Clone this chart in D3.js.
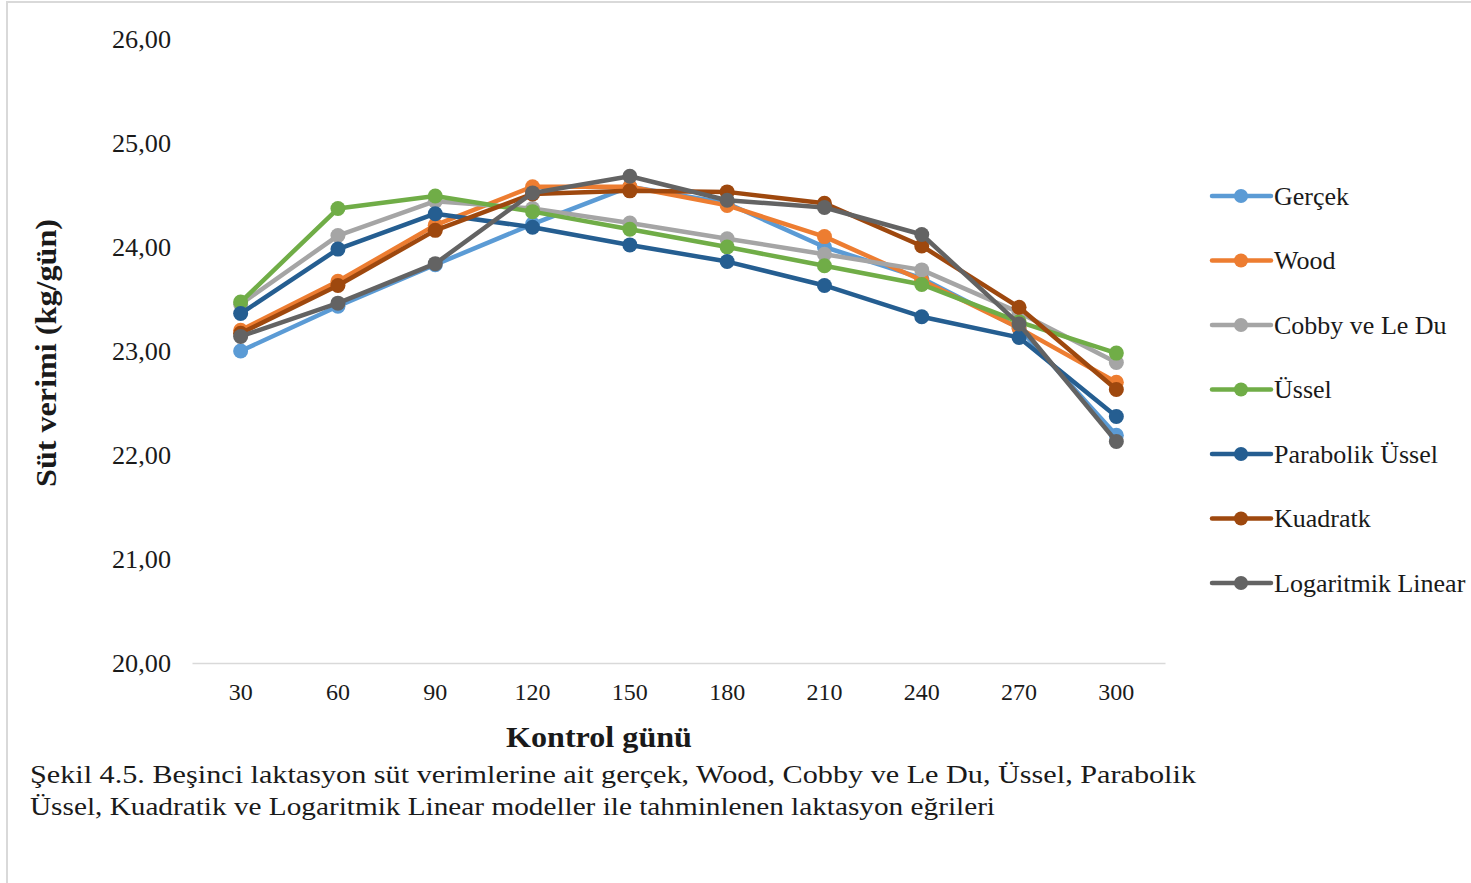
<!DOCTYPE html>
<html lang="tr">
<head>
<meta charset="utf-8">
<script src="https://cdn.jsdelivr.net/npm/d3@7"></script>
<style>
  html, body { margin: 0; padding: 0; background: #fff; }
  svg { display: block; }
  text { font-family: "Liberation Serif", "Times New Roman", serif; fill: #1a1a1a; }
</style>
</head>
<body>
<svg id="chart" width="1471" height="883"></svg>
<script>
// Control days (x categories)
const days = [30, 60, 90, 120, 150, 180, 210, 240, 270, 300];

// Milk yield per control day (kg/day), observed and model estimates
const gercek      = [23.00, 23.43, 23.83, 24.22, 24.58, 24.42, 24.00, 23.70, 23.22, 22.19];
const wood        = [23.20, 23.67, 24.21, 24.58, 24.58, 24.40, 24.10, 23.68, 23.22, 22.70];
const cobbyLeDu   = [23.45, 24.11, 24.44, 24.37, 24.23, 24.08, 23.93, 23.78, 23.37, 22.89];
const ussel       = [23.47, 24.37, 24.49, 24.34, 24.17, 24.00, 23.82, 23.64, 23.28, 22.98];
const parabolik   = [23.36, 23.98, 24.32, 24.19, 24.02, 23.86, 23.63, 23.33, 23.13, 22.37];
const kuadratk    = [23.17, 23.63, 24.16, 24.51, 24.54, 24.53, 24.42, 24.01, 23.42, 22.63];
const logLinear   = [23.14, 23.46, 23.84, 24.52, 24.68, 24.45, 24.38, 24.12, 23.26, 22.13];

const seriesNames  = ["Gerçek", "Wood", "Cobby ve Le Du", "Üssel", "Parabolik Üssel", "Kuadratk", "Logaritmik Linear"];
const seriesValues = [gercek, wood, cobbyLeDu, ussel, parabolik, kuadratk, logLinear];
const seriesColors = ["#5B9BD5", "#ED7D31", "#A5A5A5", "#70AD47", "#255E91", "#9E480E", "#636363"];

const yTicks = [20, 21, 22, 23, 24, 25, 26];

const svg = d3.select("#chart");

// Outer frame (left and top edges)
svg.append("line").attr("x1", 7).attr("x2", 7).attr("y1", 1).attr("y2", 883)
  .attr("stroke", "#d9d9d9").attr("stroke-width", 2);
svg.append("line").attr("x1", 6).attr("x2", 1471).attr("y1", 2).attr("y2", 2)
  .attr("stroke", "#d9d9d9").attr("stroke-width", 2);

const x = d3.scaleBand().domain(days).range([192, 1165]).padding(0);
const y = d3.scaleLinear().domain([20, 26]).range([663, 39]);
const cx = d => x(d) + x.bandwidth() / 2;

// Y axis labels
const yAxis = d3.axisLeft(y).tickValues(yTicks).tickSize(0).tickPadding(0)
  .tickFormat(d => d3.format(".2f")(d).replace(".", ","));
const yg = svg.append("g").attr("transform", "translate(171,0)").call(yAxis);
yg.select(".domain").remove();
yg.selectAll("text").attr("font-size", 25).attr("font-family", "Liberation Serif").attr("fill", "#1a1a1a")
  .attr("textLength", 59).attr("lengthAdjust", "spacingAndGlyphs");

// X axis line and labels
const xAxis = d3.axisBottom(x).tickSize(0).tickPadding(20);
const xg = svg.append("g").attr("transform", "translate(0,663)").call(xAxis);
xg.select(".domain").attr("stroke", "#d9d9d9").attr("stroke-width", 1.5);
xg.selectAll("text").attr("font-size", 24).attr("font-family", "Liberation Serif").attr("fill", "#1a1a1a");

// Axis titles
svg.append("text").attr("x", 599).attr("y", 747).attr("text-anchor", "middle")
  .attr("font-size", 29).attr("font-weight", "bold")
  .attr("textLength", 186).attr("lengthAdjust", "spacingAndGlyphs").text("Kontrol günü");
svg.append("text").attr("transform", "translate(56,353) rotate(-90)").attr("text-anchor", "middle")
  .attr("font-size", 29).attr("font-weight", "bold")
  .attr("textLength", 268).attr("lengthAdjust", "spacingAndGlyphs").text("Süt verimi (kg/gün)");

// Series lines and markers
const line = d3.line().x((d, i) => cx(days[i])).y(d => y(d));
seriesValues.forEach((vals, k) => {
  const g = svg.append("g");
  g.append("path").datum(vals).attr("d", line).attr("fill", "none")
    .attr("stroke", seriesColors[k]).attr("stroke-width", 4.5)
    .attr("stroke-linejoin", "round").attr("stroke-linecap", "round");
  g.selectAll("circle").data(vals).join("circle")
    .attr("cx", (d, i) => cx(days[i])).attr("cy", d => y(d)).attr("r", 7.5)
    .attr("fill", seriesColors[k]);
});

// Legend
const legend = svg.append("g");
seriesNames.forEach((name, k) => {
  const ly = 196 + k * 64.5;
  legend.append("line").attr("x1", 1212).attr("x2", 1271).attr("y1", ly).attr("y2", ly)
    .attr("stroke", seriesColors[k]).attr("stroke-width", 4.5).attr("stroke-linecap", "round");
  legend.append("circle").attr("cx", 1241).attr("cy", ly).attr("r", 7).attr("fill", seriesColors[k]);
  legend.append("text").attr("x", 1274).attr("y", ly).attr("dy", "0.33em")
    .attr("font-size", 26).text(name);
});

// Figure caption
svg.append("text").attr("x", 30).attr("y", 783).attr("font-size", 25)
  .attr("textLength", 1166).attr("lengthAdjust", "spacingAndGlyphs")
  .text("Şekil 4.5. Beşinci laktasyon süt verimlerine ait gerçek, Wood, Cobby ve Le Du, Üssel, Parabolik");
svg.append("text").attr("x", 30).attr("y", 815).attr("font-size", 25)
  .attr("textLength", 965).attr("lengthAdjust", "spacingAndGlyphs")
  .text("Üssel, Kuadratik ve Logaritmik Linear modeller ile tahminlenen laktasyon eğrileri");
</script>
</body>
</html>
